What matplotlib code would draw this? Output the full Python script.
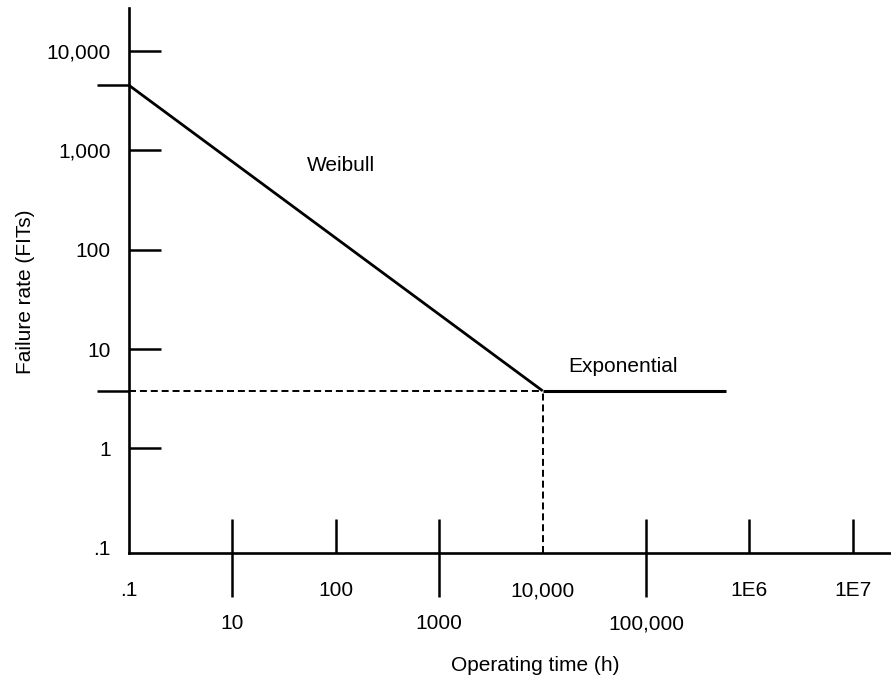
import numpy as np
import matplotlib
matplotlib.use("Agg")
import matplotlib.pyplot as plt
from matplotlib.ticker import NullFormatter

plt.rcParams['font.family'] = ['Liberation Sans', 'DejaVu Sans']
plt.rcParams['font.size'] = 15

# data (hours on x, FITs on y)
weibull_hours = [0.1, 10000]
weibull_fits = [4500, 3.8]
exp_hours = [10000, 6e5]
exp_fits = [3.8, 3.8]
knee_hours = 10000
knee_fits = 3.8

x_ticks = [0.1, 10, 100, 1000, 10000, 100000, 1e6, 1e7]
x_upper = ['.1', '', '100', '', '10,000', '', '1E6', '1E7']
x_lower_ticks = [10, 1000, 100000]
x_lower = ['10', '1000', '100,000']
y_ticks = [0.1, 1, 10, 100, 1000, 10000]
y_labels = ['.1', '1', '10', '100', '1,000', '10,000']
y_marks = [4500, 3.8]


# the drawn axis squeezes .1 -> 10 into one step, then one step per decade
def fwd(h):
    with np.errstate(divide='ignore', invalid='ignore'):
        L = np.log10(np.asarray(h, dtype=float))
    return np.where(L < 1, (L + 1) / 2, L)


def inv(p):
    p = np.asarray(p, dtype=float)
    return np.where(p < 1, 10 ** (2 * p - 1), 10 ** p)


fig = plt.figure(figsize=(8.91, 6.77), dpi=100)
ax = fig.add_axes([0.1448, 0.1832, 0.8552, 0.8050])

ax.set_xscale('function', functions=(fwd, inv))
ax.set_yscale('log')
ax.set_xlim(0.1, float(inv(7.37)))
ax.set_ylim(10 ** -1.052, 27000)

ax.plot(weibull_hours, weibull_fits, color='black', lw=2.0, solid_capstyle='butt')
ax.plot(exp_hours, exp_fits, color='black', lw=2.2, solid_capstyle='butt')
ax.hlines(knee_fits, 0.1, knee_hours, colors='black', lw=1.4, linestyles=(0, (3.6, 2)))
ax.vlines(knee_hours, ax.get_ylim()[0], knee_fits, colors='black', lw=1.4,
          linestyles=(0, (3.6, 2)))

ax.text(112, 700, 'Weibull', ha='center', va='center')
ax.text(60000, 6.6, 'Exponential', ha='center', va='center')

for s in ['top', 'right']:
    ax.spines[s].set_visible(False)
for s in ['left', 'bottom']:
    ax.spines[s].set_linewidth(1.9)

# x ticks: upper row labels with inward ticks, lower row with outward ticks
ax.xaxis.remove_overlapping_locs = False
ax.set_xticks(x_ticks, x_upper)
ax.set_xticks(x_lower_ticks, x_lower, minor=True)
ax.tick_params(axis='x', which='major', direction='in', length=24.5, width=1.8, pad=20.5)
ax.tick_params(axis='x', which='minor', direction='out', length=32, width=1.8, pad=12)
ax.tick_params(axis='x', which='both', labelsize=15)
xt = ax.xaxis.get_major_ticks()
xt[0].tick1line.set_visible(False)
xt[4].tick1line.set_visible(False)

# y ticks
ax.set_yticks(y_ticks, y_labels)
ax.set_yticks(y_marks, minor=True)
ax.yaxis.set_minor_formatter(NullFormatter())
ax.tick_params(axis='y', which='major', direction='in', length=23, width=1.8, pad=13)
ax.tick_params(axis='y', which='minor', direction='out', length=23, width=1.8)
ax.yaxis.get_major_ticks()[0].tick1line.set_visible(False)

ax.set_xlabel('Operating time (h)')
ax.xaxis.set_label_coords(0.533, -0.189)
ax.set_ylabel('Failure rate (FITs)')
ax.yaxis.set_label_coords(-0.123, 0.479)

fig.savefig('out.png', dpi=100)
